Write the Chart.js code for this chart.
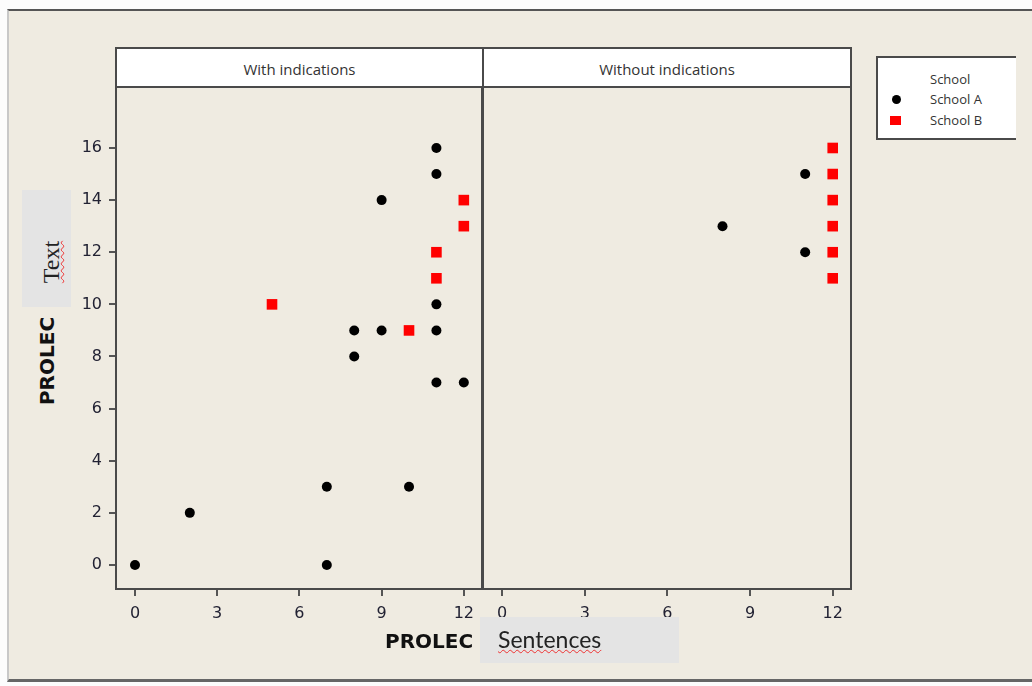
<!DOCTYPE html>
<html>
<head>
<meta charset="utf-8">
<script src="https://cdn.jsdelivr.net/npm/chart.js@4.4.1/dist/chart.umd.min.js"></script>
<style>
  html, body { margin: 0; padding: 0; background: #fcfcfc; }
  #frame { position: absolute; left: 7px; top: 9px; width: 1025px; height: 673px;
           background: #efebe1; border-top: 2px solid #555; border-left: 2px solid #c8c8c8;
           border-bottom: 3px solid #666; box-sizing: border-box; }
  .panel-head { position: absolute; top: 47px; height: 41px; background: #fff;
                border: 2px solid #4a4a4a; box-sizing: border-box; text-align: center;
                font: 15px "Open Sans", sans-serif; color: #333; line-height: 40px; }
  canvas { position: absolute; }
  #legend { position: absolute; left: 876px; top: 56px; width: 140px; height: 84px; background: #fff;
            border: 2px solid #4a4a4a; border-right: none; box-sizing: border-box;
            font: 13px "Open Sans", sans-serif; color: #333; overflow: hidden; }
  #legend div { position: absolute; left: 52px; }
  .dot { position: absolute; left: 14px; width: 9px; height: 9px; border-radius: 50%; background: #000; }
  .sq { position: absolute; left: 12px; width: 11px; height: 9px; background: #f00; }
  .lab { position: absolute; font: bold 20px "DejaVu Sans", sans-serif; color: #111; }
  .box { position: absolute; background: #e4e4e4; }
</style>
</head>
<body>
<div id="frame"></div>
<div class="panel-head" style="left:115px;width:369px;">With indications</div>
<div class="panel-head" style="left:482px;width:370px;">Without indications</div>
<canvas id="c1" width="413" height="540" style="left:70px;top:87px;width:413px;height:540px;"></canvas>
<canvas id="c2" width="370" height="540" style="left:482px;top:87px;width:370px;height:540px;"></canvas>

<div id="legend">
  <div style="top:12px;">School</div>
  <span class="dot" style="top:37px;"></span><div style="top:32px;">School A</div>
  <span class="sq" style="top:58px;"></span><div style="top:53px;">School B</div>
</div>

<div class="box" style="left:22px;top:190px;width:49px;height:117px;"></div>
<div style="position:absolute;left:22px;top:246px;width:64px;height:32px;line-height:32px;text-align:center;transform:rotate(-90deg);font:24px 'Liberation Serif',serif;color:#222;text-decoration:underline wavy #e33 1px;">Text</div>
<div class="lab" style="left:3px;top:349px;transform:rotate(-90deg);">PROLEC</div>

<div class="box" style="left:480px;top:617px;width:199px;height:46px;"></div>
<div class="lab" style="left:385px;top:629px;">PROLEC</div>
<div style="position:absolute;left:498px;top:625px;font:23px 'Lato',sans-serif;color:#222;text-decoration:underline wavy #e33 1px;">Sentences</div>

<script>
// x ticks and y ticks shown on the axes
const xTicks = [0, 3, 6, 9, 12];
const yTicks = [0, 2, 4, 6, 8, 10, 12, 14, 16];

// "With indications" panel
const withA_x = [0, 2, 7, 7, 10, 8, 8, 9, 9, 11, 11, 11, 11, 11, 12];
const withA_y = [0, 2, 3, 0, 3, 8, 9, 9, 14, 16, 15, 10, 9, 7, 7];
const withB_x = [5, 10, 11, 11, 12, 12];
const withB_y = [10, 9, 11, 12, 13, 14];

// "Without indications" panel
const withoutA_x = [8, 11, 11];
const withoutA_y = [13, 15, 12];
const withoutB_x = [12, 12, 12, 12, 12, 12];
const withoutB_y = [16, 15, 14, 13, 12, 11];

const toPoints = (xs, ys) => xs.map((x, i) => ({ x: x, y: ys[i] }));

const frameBox = {
  id: "frameBox",
  afterDraw(chart) {
    const a = chart.chartArea, ctx = chart.ctx;
    ctx.save();
    ctx.strokeStyle = "#4a4a4a";
    ctx.lineWidth = 2;
    ctx.strokeRect(a.left + 1, a.top, a.right - a.left - 2, a.bottom - a.top - 1);
    ctx.restore();
  }
};

function noPad(s) {
  s.paddingLeft = 0; s.paddingRight = 0; s.paddingTop = 0; s.paddingBottom = 0;
}

function makeChart(id, setA, setB, showY) {
  const tickFont = { family: "DejaVu Sans", size: 16 };
  return new Chart(document.getElementById(id), {
    type: "scatter",
    data: {
      datasets: [
        { label: "School A", data: setA, pointStyle: "circle", pointRadius: 5,
          backgroundColor: "#000", borderColor: "#000", borderWidth: 0 },
        { label: "School B", data: setB, pointStyle: "rect", pointRadius: 7.5,
          backgroundColor: "#f00", borderColor: "#f00", borderWidth: 0 },
      ],
    },
    options: {
      responsive: false,
      animation: false,
      layout: { padding: 0, autoPadding: false },
      plugins: { legend: { display: false }, tooltip: { enabled: false } },
      scales: {
        x: {
          type: "linear", min: -0.73, max: 12.7,
          afterBuildTicks: (s) => { s.ticks = xTicks.map(v => ({ value: v })); },
          afterFit: (s) => { s.height = 37; noPad(s); },
          grid: { drawOnChartArea: false, drawTicks: true, tickLength: 6, color: "#555", lineWidth: 2 },
          border: { display: false },
          ticks: { color: "#222233", font: tickFont, padding: 8 },
        },
        y: {
          display: showY,
          type: "linear", min: -0.96, max: 18.34,
          afterBuildTicks: (s) => { s.ticks = yTicks.map(v => ({ value: v })); },
          afterFit: (s) => { s.width = showY ? 45 : 0; noPad(s); },
          grid: { drawOnChartArea: false, drawTicks: true, tickLength: 6, color: "#555", lineWidth: 2 },
          border: { display: false },
          ticks: { color: "#222233", font: tickFont, padding: 7 },
        },
      },
    },
    plugins: [frameBox],
  });
}

makeChart("c1", toPoints(withA_x, withA_y), toPoints(withB_x, withB_y), true);
makeChart("c2", toPoints(withoutA_x, withoutA_y), toPoints(withoutB_x, withoutB_y), false);
</script>
</body>
</html>
